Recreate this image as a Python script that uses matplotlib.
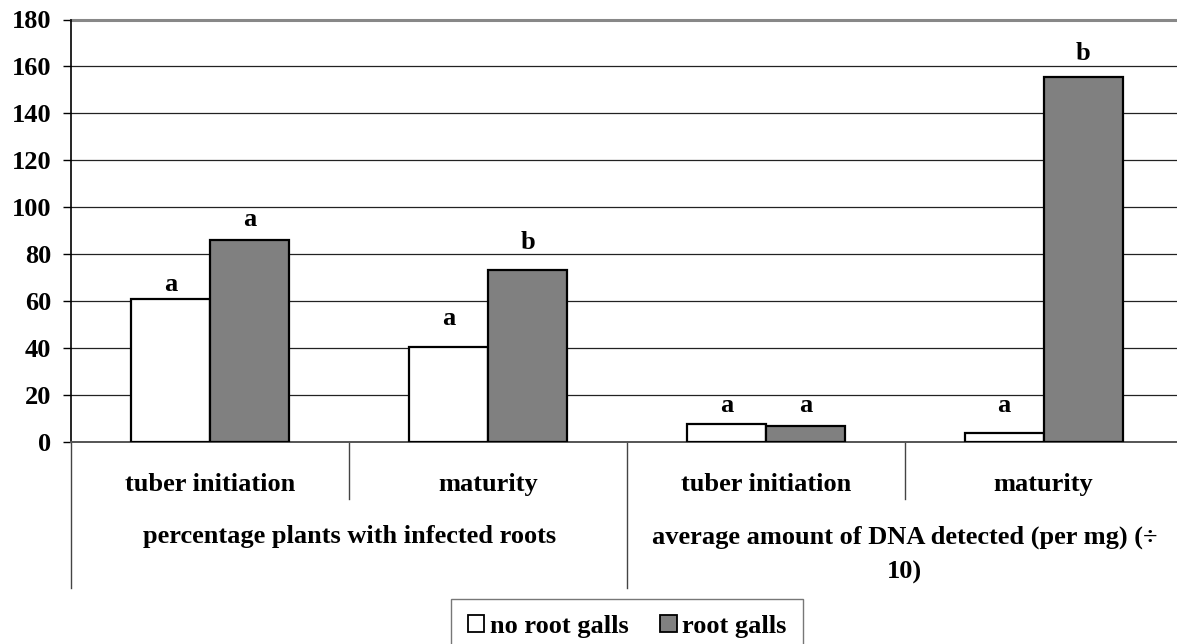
import numpy as np
import matplotlib
matplotlib.use("Agg")
import matplotlib.pyplot as plt
from matplotlib.patches import Patch
from matplotlib.transforms import blended_transform_factory

# data
stages = ["tuber initiation", "maturity", "tuber initiation", "maturity"]
groups = ["percentage plants with infected roots",
          "average amount of DNA detected (per mg) (\u00f7\n10)"]
no_galls = [61, 40.3, 7.7, 3.7]
galls = [86, 73.4, 6.8, 155.4]
letters_no = ["a", "a", "a", "a"]
letters_galls = ["a", "b", "a", "b"]
yticks = [0, 20, 40, 60, 80, 100, 120, 140, 160, 180]

plt.rcParams["font.family"] = ["Liberation Serif", "DejaVu Serif"]
plt.rcParams["font.weight"] = "bold"
fs = 19

W, H = 1177, 644
fig = plt.figure(figsize=(W / 100, H / 100), dpi=100)
# plot area runs slightly past the right edge of the picture, as in the reference
ax = fig.add_axes([71.3 / W, 1 - 441.7 / H, (1182.5 - 71.3) / W, 422.2 / H])

x = np.arange(len(stages))
bw = 0.2845
ax.bar(x - bw / 2, no_galls, bw, color="white", edgecolor="black", linewidth=1.6, zorder=3)
ax.bar(x + bw / 2, galls, bw, color="#808080", edgecolor="black", linewidth=1.6, zorder=3)

# significance letters: baseline offsets in pixels above each bar top
off_no = [8, 22, 12, 21]
off_g = [14, 21, 14, 17]
for i in range(len(stages)):
    ax.annotate(letters_no[i], (x[i] - bw / 2, no_galls[i]), xytext=(0, off_no[i] * 0.72),
                textcoords="offset points", ha="center", va="baseline", fontsize=fs,
                fontweight="bold", zorder=4)
    ax.annotate(letters_galls[i], (x[i] + bw / 2, galls[i]), xytext=(0, off_g[i] * 0.72),
                textcoords="offset points", ha="center", va="baseline", fontsize=fs,
                fontweight="bold", zorder=4)

ax.set_xlim(-0.5, len(stages) - 0.5)
ax.set_ylim(0, 180)
ax.set_yticks(yticks)
ax.set_yticklabels([str(v) for v in yticks], fontsize=fs, fontweight="bold")
ax.tick_params(axis="y", length=6, width=1, pad=8.5)
ax.set_xticks([])
ax.yaxis.grid(True, color="#222222", linewidth=0.9, zorder=0)
ax.set_axisbelow(True)

for s in ["top", "right"]:
    ax.spines[s].set_visible(False)
ax.spines["left"].set_color("black")
ax.spines["left"].set_linewidth(1.2)
ax.spines["bottom"].set_color("#555555")
ax.spines["bottom"].set_linewidth(1.4)
ax.axhline(180, color="#888888", linewidth=2.2, zorder=1, clip_on=False)

# two-level category axis below the plot
tr = blended_transform_factory(ax.transData, ax.transAxes)
px = 1 / 422.2  # one pixel in axes-fraction units
inner_bottom = -(499 - 441.7) * px
outer_bottom = -(587.7 - 441.7) * px
for xb in [-0.5, 1.5, 3.5]:
    ax.plot([xb, xb], [0, outer_bottom], color="#444444", lw=1, transform=tr, clip_on=False)
for xb in [0.5, 2.5]:
    ax.plot([xb, xb], [0, inner_bottom], color="#444444", lw=1, transform=tr, clip_on=False)

for i, s in enumerate(stages):
    ax.text(x[i], -(491 - 441.7) * px, s, transform=tr, ha="center", va="baseline",
            fontsize=fs, fontweight="bold")
for j, g in enumerate(groups):
    for k, line in enumerate(g.split("\n")):
        ax.text(2 * j + 0.5, -(543.3 + 35 * k - 441.7) * px, line, transform=tr,
                ha="center", va="baseline", fontsize=fs, fontweight="bold")

handles = [Patch(facecolor="white", edgecolor="black", linewidth=1.3),
           Patch(facecolor="#808080", edgecolor="black", linewidth=1.3)]
leg = fig.legend(handles, ["no root galls", "root galls"], loc="upper center",
                 bbox_to_anchor=(627 / W, 1 - 598.5 / H), ncol=2,
                 frameon=True, fancybox=False, edgecolor="#555555", handlelength=0.63,
                 handleheight=0.62, handletextpad=0.2, columnspacing=1.2,
                 borderpad=0.62, borderaxespad=0, prop={"weight": "bold", "size": fs})
leg.get_frame().set_linewidth(1)

fig.savefig("out.png", dpi=100)
